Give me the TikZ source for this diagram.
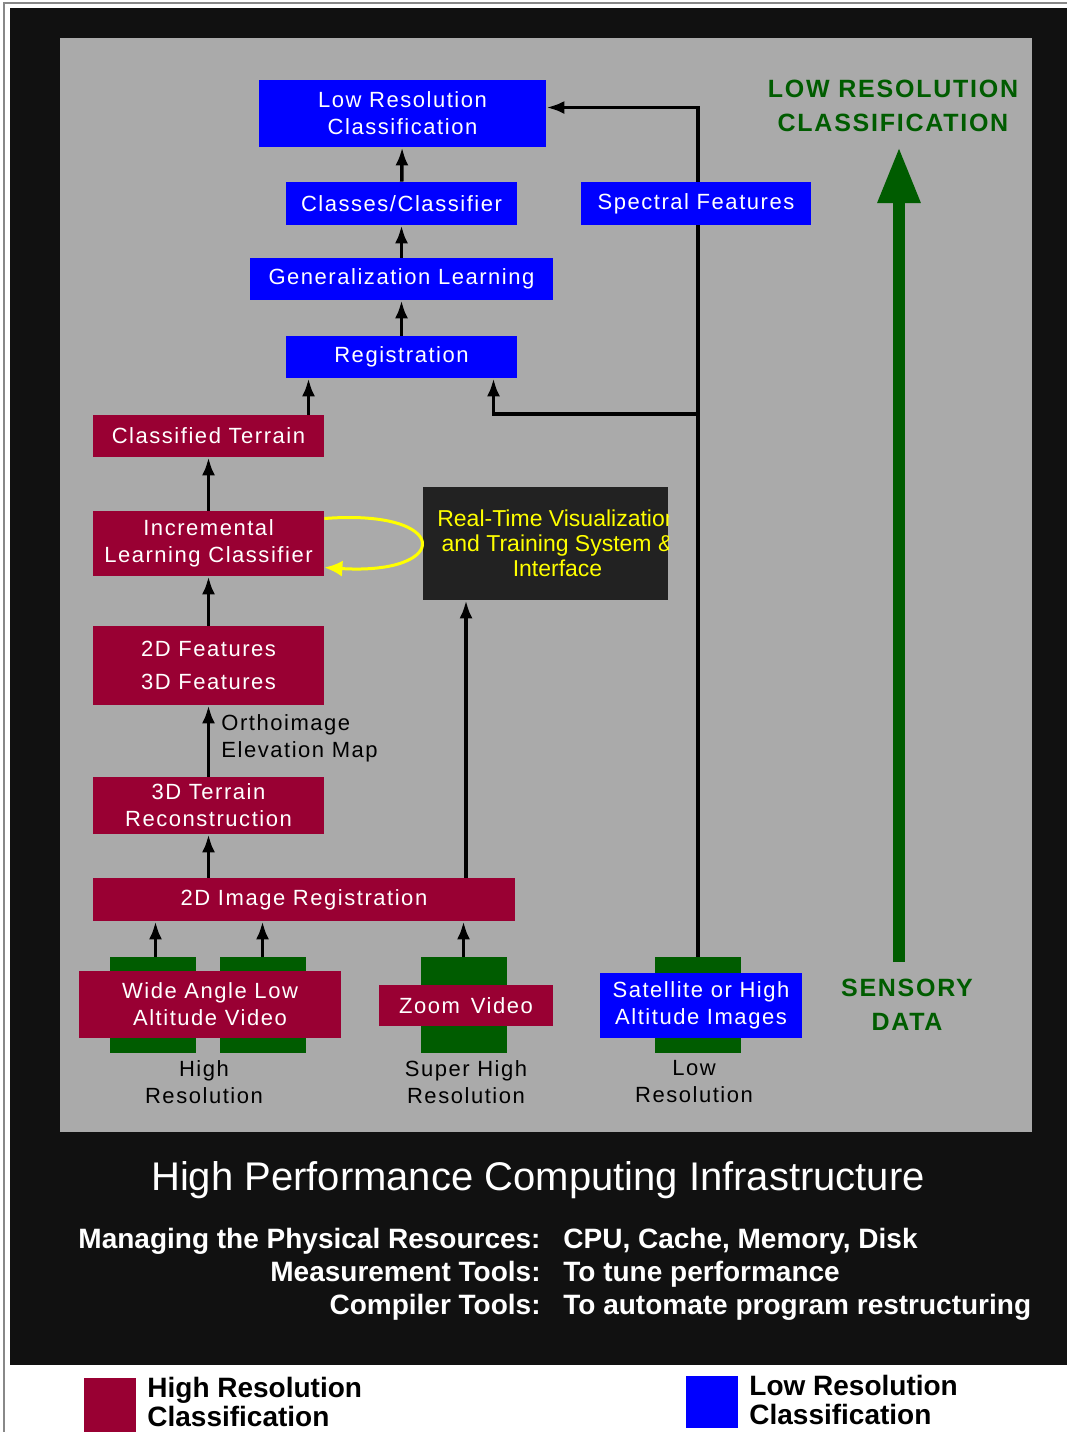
\documentclass[tikz,border=0pt]{standalone}
\usepackage{fontspec}
\setmainfont{Liberation Sans}
\newfontfamily\boxfont[LetterSpace=7]{Liberation Sans}
\usetikzlibrary{arrows.meta,positioning}
\definecolor{highred}{HTML}{990033}
\definecolor{lowblue}{HTML}{0000FF}
\definecolor{sensegreen}{HTML}{005C00}
\definecolor{panelgray}{HTML}{AAAAAA}
\definecolor{framedark}{HTML}{111111}
\definecolor{framegray}{HTML}{888888}
\definecolor{rtvbg}{HTML}{222222}
\definecolor{rtvyellow}{HTML}{FFFF00}

\begin{document}
\begin{tikzpicture}[x=0.5pt, y=-0.5pt,
  lowbox/.style={fill=lowblue, text=white, align=center, inner sep=0pt,
                 font=\boxfont\fontsize{11}{13.5}\selectfont},
  highbox/.style={fill=highred, text=white, align=center, inner sep=0pt,
                  font=\boxfont\fontsize{11}{13.5}\selectfont},
  greenbar/.style={fill=sensegreen, minimum width=43pt, minimum height=48pt, inner sep=0pt},
  caption/.style={align=center, inner sep=0pt, font=\boxfont\fontsize{11}{13.5}\selectfont},
  sensetext/.style={text=sensegreen, align=center, inner sep=0pt,
                    font=\boxfont\bfseries\fontsize{12.5}{17}\selectfont},
  flow/.style={-{Latex[length=9pt,width=6.5pt]}, line width=1.75pt},
  loopline/.style={-{Latex[length=9pt,width=8pt]}, rtvyellow, line width=1.5pt},
  bigarrow/.style={-{Triangle[length=28pt,width=20pt]}, sensegreen, line width=6pt},
  keytext/.style={text=white, inner sep=0pt, font=\bfseries\fontsize{14}{16.5}\selectfont},
  legendtext/.style={align=left, inner sep=0pt, anchor=west, font=\bfseries\fontsize{14}{14.5}\selectfont}
]
  \useasboundingbox (0,0) rectangle (1067,1432);
  \fill[white] (0,0) rectangle (1067,1432);
  \draw[framegray, line width=1pt] (4,1432) -- (4,3) -- (1067,3);
  \fill[framedark] (10,8) rectangle (1067,1365);
  \fill[panelgray] (60,38) rectangle (1032,1132);

  % sensory bars
  \node[greenbar] (wideA) at (152.5,1005) {};
  \node[greenbar] (wideB) at (262.5,1005) {};
  \node[greenbar] (zoomg) at (463.5,1005) {};
  \node[greenbar] (satg) at (698,1005) {};

  % low resolution path
  \node[lowbox, minimum width=143.5pt, minimum height=33.5pt] (lowres) at (402.5,113.5) {Low Resolution\\Classification};
  \node[lowbox, minimum width=115.5pt, minimum height=21.5pt] (classes) at (401.5,203.5) {Classes/Classifier};
  \node[lowbox, minimum width=151.5pt, minimum height=21pt] (genlearn) at (401.5,279) {Generalization Learning};
  \node[lowbox, minimum width=115.5pt, minimum height=21pt] (reg) at (401.5,357) {Registration};
  \node[lowbox, minimum width=101pt, minimum height=32.5pt] (sat) at (701,1005.5) {Satellite or High\\Altitude Images};

  % high resolution path
  \node[highbox, minimum width=115.5pt, minimum height=21pt] (classterr) at (208.5,436) {Classified Terrain};
  \node[highbox, minimum width=115.5pt, minimum height=32.5pt] (incr) at (208.5,543.5) {Incremental\\Learning Classifier};
  \node[highbox, minimum width=115.5pt, minimum height=39.5pt] (feat) at (208.5,665.5) {2D Features\\[3pt]3D Features};
  \node[highbox, minimum width=115.5pt, minimum height=28.5pt] (recon) at (208.5,805.5) {3D Terrain\\Reconstruction};
  \node[highbox, minimum width=211pt, minimum height=21.5pt] (imgreg) at (304,899.5) {2D Image Registration};
  \node[highbox, minimum width=131pt, minimum height=33.5pt] (wide) at (210,1004.5) {Wide Angle Low\\Altitude Video};
  \node[highbox, minimum width=87pt, minimum height=20.5pt] (zoom) at (466,1005.5) {Zoom\enspace Video};

  \node[fill=rtvbg, minimum width=122.5pt, minimum height=56.5pt, inner sep=0pt,
        path picture={\node[text=rtvyellow, align=center, inner sep=0pt,
                            font=\fontsize{11.5}{12.5}\selectfont]
                        at ([xshift=6pt]path picture bounding box.center)
                        {Real-Time Visualization\\and Training System \&\\Interface};}]
    (rtv) at (545.5,543.5) {};

  \node[caption, anchor=west, align=left] (ortho) at (221,738) {Orthoimage\\Elevation Map};
  \node[caption] (hicap) at (204,1082) {High\\Resolution};
  \node[caption] (supcap) at (466,1082) {Super High\\Resolution};
  \node[caption] (locap) at (694,1082) {Low\\Resolution};

  \draw[flow] (classes) -- (lowres);
  \draw[flow] (genlearn) -- (classes);
  \draw[flow] (reg) -- (genlearn);
  \draw[flow] ([xshift=50pt]classterr.north) -- ([xshift=50pt]classterr.north |- reg.south);
  \draw[flow] (incr) -- (classterr);
  \draw[flow] (feat) -- (incr);
  \draw[flow] (recon) -- (feat);
  \draw[flow] (imgreg.north -| recon) -- (recon);
  \draw[flow] ([xshift=81pt]imgreg.north) -- ([xshift=81pt]imgreg.north |- rtv.south);
  \draw[flow] ([xshift=1.5pt]wideA.north) -- ([xshift=1.5pt]wideA.north |- imgreg.south);
  \draw[flow] (wideB.north) -- (wideB.north |- imgreg.south);
  \draw[flow] (zoomg.north) -- (zoomg.north |- imgreg.south);
  \draw[flow] (satg.north) |- ([yshift=3pt]lowres.east);
  \coordinate (split) at (698,414);
  \draw[flow] (split) -| ([xshift=46pt]reg.south);
  \draw[loopline] ([yshift=12.5pt]incr.east) .. controls +(128,-10) and +(128,8) .. ([yshift=-12pt]incr.east);

  \node[lowbox, minimum width=115pt, minimum height=21.5pt] (spectral) at (696,203.5) {Spectral Features};

  % sensory data arrow
  \node[sensetext] (lowlbl) at (893,106) {LOW RESOLUTION\\CLASSIFICATION};
  \node[sensetext] (sensory) at (907,1005) {SENSORY\\DATA};
  \coordinate (gbot) at (899,962);
  \coordinate (gtop) at (899,147);
  \draw[bigarrow] (gbot) -- (gtop);

  % infrastructure
  \node[text=white, inner sep=0pt, font=\fontsize{20}{22}\selectfont] (hpc) at (538,1180) {High Performance Computing Infrastructure};
  \node[keytext, align=right, anchor=north east] (keys) at (541,1228) {Managing the Physical Resources:\\Measurement Tools:\\Compiler Tools:};
  \node[keytext, align=left, anchor=north west] (vals) at (563,1228) {CPU, Cache, Memory, Disk\\To tune performance\\To automate program restructuring};

  % legend
  \node[fill=highred, minimum width=26pt, minimum height=28pt, inner sep=0pt] (hikey) at (110,1406) {};
  \node[legendtext] (hilbl) at (147,1402) {High Resolution\\Classification};
  \node[fill=lowblue, minimum width=26pt, minimum height=26pt, inner sep=0pt] (lokey) at (712,1402) {};
  \node[legendtext] (lolbl) at (749,1400) {Low Resolution\\Classification};
\end{tikzpicture}
\end{document}
